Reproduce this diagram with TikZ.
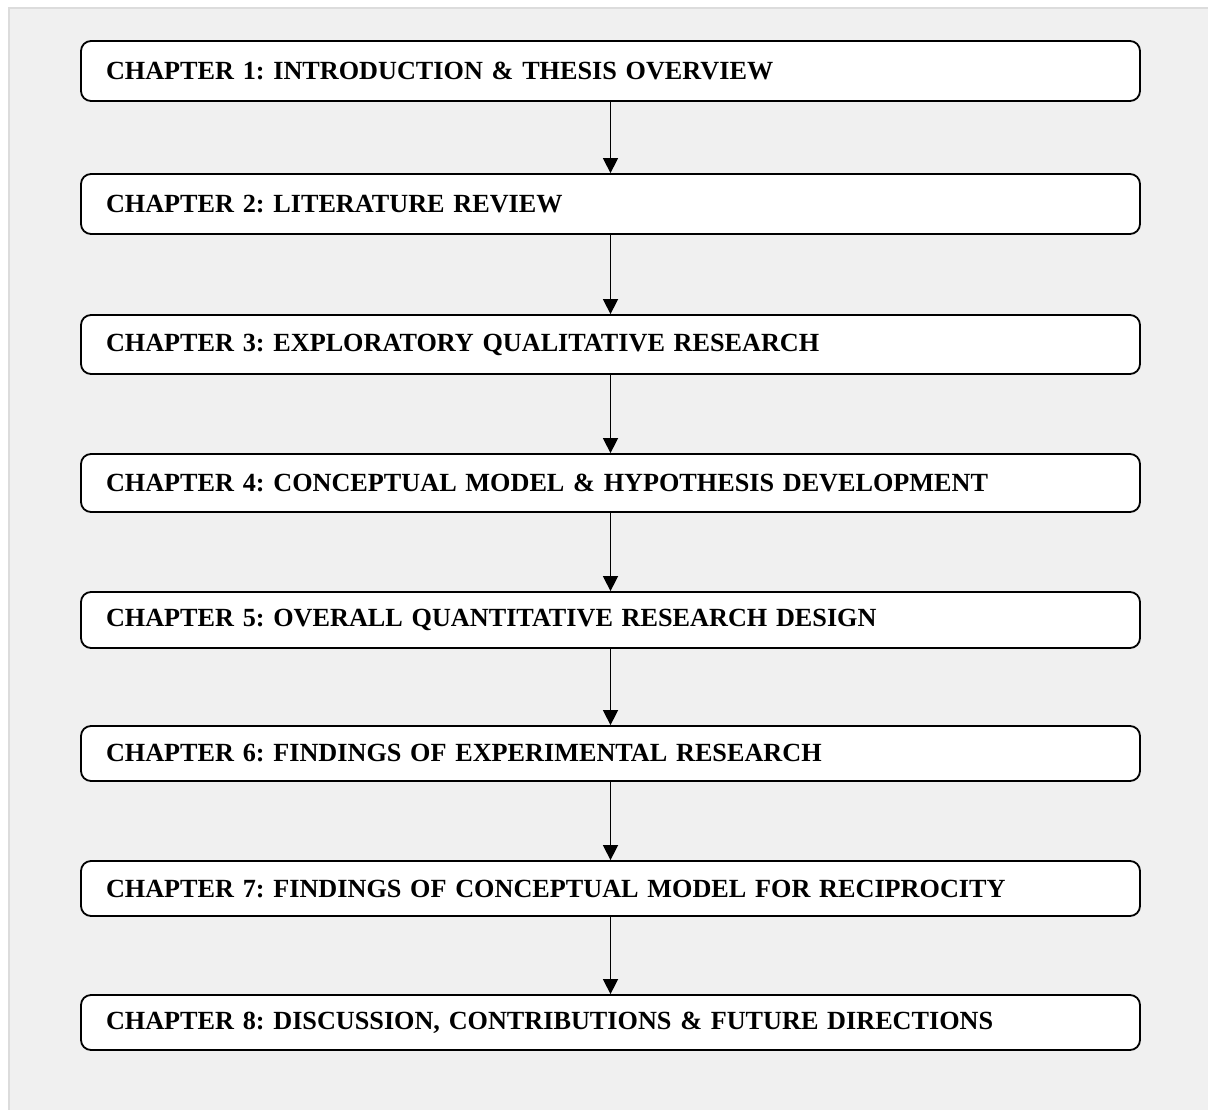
\documentclass[tikz,border=0pt]{standalone}
\usepackage{fontspec}
\setmainfont{Liberation Serif}
\usetikzlibrary{arrows.meta}
\definecolor{pagebg}{HTML}{F0F0F0}
\definecolor{framegray}{HTML}{DCDCDC}
\frenchspacing
\begin{document}
\begin{tikzpicture}[x=1pt,y=-1pt,
  chapbox/.style={draw=black, line width=1.8pt, fill=white, rounded corners=10pt,
    minimum width=1059pt, text width=1009pt, inner xsep=25pt, inner ysep=0pt,
    align=left, anchor=center,
    font=\fontsize{26.2}{30}\selectfont\bfseries},
  flow/.style={line width=1.5pt, -{Triangle[width=15pt,length=15pt]}}]
  % canvas and framed panel
  \useasboundingbox (0,0) rectangle (1208,1109);
  \clip (0,0) rectangle (1208,1109);
  \fill[white] (0,0) rectangle (1208,1109);
  \draw[framegray, line width=2pt, fill=pagebg] (9,7.5) rectangle (1230,1130);
  % chapter boxes
  \node[chapbox, minimum height=60pt] (c1) at (610.5,71)    {CHAPTER 1: INTRODUCTION \& THESIS OVERVIEW};
  \node[chapbox, minimum height=60pt] (c2) at (610.5,204)   {CHAPTER 2: LITERATURE REVIEW};
  \node[chapbox, minimum height=59pt] (c3) at (610.5,344.5) {CHAPTER 3: EXPLORATORY QUALITATIVE RESEARCH};
  \node[chapbox, minimum height=58pt] (c4) at (610.5,483)   {CHAPTER 4: CONCEPTUAL MODEL \& HYPOTHESIS DEVELOPMENT};
  \node[chapbox, minimum height=56pt] (c5) at (610.5,620)   {CHAPTER 5: OVERALL QUANTITATIVE RESEARCH DESIGN};
  \node[chapbox, minimum height=55pt] (c6) at (610.5,753.5) {CHAPTER 6: FINDINGS OF EXPERIMENTAL RESEARCH};
  \node[chapbox, minimum height=55pt] (c7) at (610.5,888.5) {CHAPTER 7: FINDINGS OF CONCEPTUAL MODEL FOR RECIPROCITY};
  \node[chapbox, minimum height=55pt] (c8) at (610.5,1022.5){CHAPTER 8: DISCUSSION, CONTRIBUTIONS \& FUTURE DIRECTIONS};
  % connectors
  \foreach \a/\b in {c1/c2,c2/c3,c3/c4,c4/c5,c5/c6,c6/c7,c7/c8}
    \draw[flow] (\a.south) -- (\b.north);
\end{tikzpicture}
\end{document}
